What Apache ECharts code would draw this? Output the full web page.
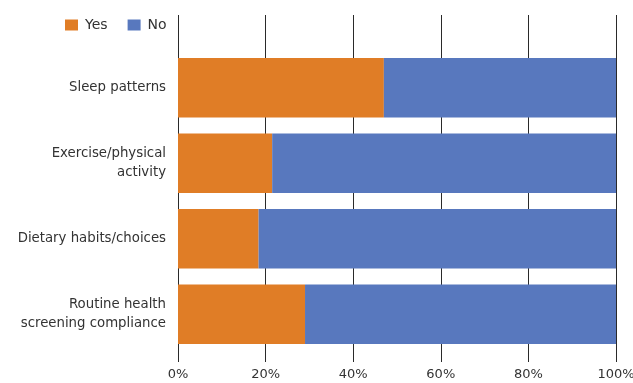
<!DOCTYPE html>
<html>
<head>
<meta charset="utf-8">
<script src="https://cdn.jsdelivr.net/npm/echarts@6/dist/echarts.min.js"></script>
<style>html,body{margin:0;padding:0;background:#fff;}#c{width:633px;height:383px;}</style>
</head>
<body>
<div id="c"></div>
<script>
var categories = ['Sleep patterns', 'Exercise/physical\nactivity', 'Dietary habits/choices', 'Routine health\nscreening compliance'];
var yesValues = [47, 21.5, 18.4, 29];
var noValues = [53, 78.5, 81.6, 71];
var tickValues = [0, 20, 40, 60, 80, 100];

var chart = echarts.init(document.getElementById('c'), null, {renderer: 'canvas'});
var font = 'DejaVu Sans';
chart.setOption({
  animation: false,
  backgroundColor: '#fff',
  legend: {
    left: 65, top: 18, padding: 0, itemWidth: 13, itemHeight: 11, itemGap: 20,
    icon: 'rect',
    textStyle: {fontFamily: font, fontSize: 14, color: '#333', padding: [0, 0, 0, 2]},
    data: ['Yes', 'No']
  },
  grid: [
    {left: 178, right: 17, top: 15, bottom: 21, outerBoundsMode: 'none', containLabel: false},
    {left: 178, right: 17, top: 50, bottom: 31, outerBoundsMode: 'none', containLabel: false}
  ],
  xAxis: [
    {gridIndex: 0, type: 'value', min: 0, max: 100, interval: 20,
     axisLine: {show: false}, axisTick: {show: false},
     splitLine: {show: true, lineStyle: {color: '#2a2a2a', width: 1}},
     axisLabel: {formatter: '{value}%', margin: 6, fontFamily: font, fontSize: 13, color: '#333'}},
    {gridIndex: 1, type: 'value', min: 0, max: 100, show: false, splitLine: {show: false}}
  ],
  yAxis: [
    {gridIndex: 0, type: 'category', data: [''], show: false},
    {gridIndex: 1, type: 'category', inverse: true, data: categories,
     axisLine: {show: false}, axisTick: {show: false},
     axisLabel: {margin: 12, fontFamily: font, fontSize: 13.3, color: '#333', lineHeight: 19, align: 'right'}}
  ],
  series: [
    {name: 'Yes', type: 'bar', stack: 's', xAxisIndex: 1, yAxisIndex: 1, data: yesValues,
     barCategoryGap: '21%', itemStyle: {color: '#E07D26'}},
    {name: 'No', type: 'bar', stack: 's', xAxisIndex: 1, yAxisIndex: 1, data: noValues,
     barCategoryGap: '21%', itemStyle: {color: '#5878BE'}}
  ]
});
</script>
</body>
</html>
